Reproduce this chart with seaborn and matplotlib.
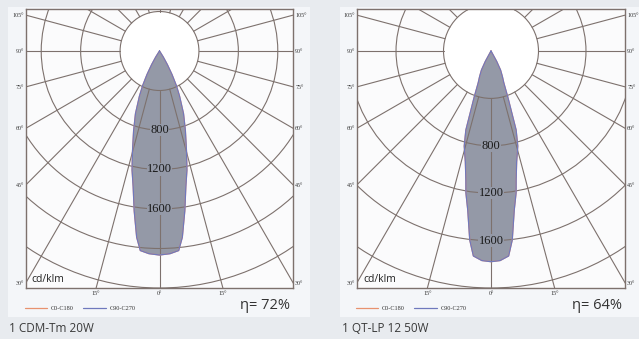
import numpy as np
import pandas as pd
import matplotlib
matplotlib.use('Agg')
import matplotlib.pyplot as plt
import seaborn as sns
from matplotlib.patches import Circle, Rectangle

# Werte (cd/klm ueber Ausstrahlwinkel gamma)
lamps = ["1 CDM-Tm 20W", "1 QT-LP 12 50W"]
eta = ["η= 72%", "η= 64%"]
gamma_a = [0, 3, 5.5, 7, 9, 11, 13, 15, 18, 21, 24, 26, 28, 30, 32, 34]
cd_a = [2066, 2055, 2030, 1900, 1640, 1400, 1237, 1060, 850, 680, 500, 390, 270, 160, 70, 0]
gamma_b = [0, 2.5, 4.9, 6.4, 8.3, 10, 11, 13, 15.7, 17.6, 20, 21.8, 24, 26.6, 28.5, 30.5]
cd_b = [1778, 1770, 1736, 1605, 1356, 1216, 1109, 960, 833, 700, 413, 291, 235, 179, 100, 0]
ring_labels = [800, 1200, 1600]
ring_max = [2400, 2000]
side_angles = [30, 45, 60, 75, 90, 105]
bottom_angles = [-15, 0, 15]
series = ["C0-C180", "C90-C270"]

grid_col = '#7d716d'
fill_col = '#9499a7'
line_cols = ['#e8926f', '#6f79bd']

sns.set_theme(style='white')
plt.rcParams['font.family'] = ['Open Sans', 'DejaVu Sans']

W, H = 639, 339
fig = plt.figure(figsize=(W / 100, H / 100), dpi=100, facecolor='#e8ebef')

# helle Karten hinter den Diagrammen
for cx in [8, 340]:
    fig.add_artist(Rectangle((cx / W, 1 - 317 / H), 302 / W, 310 / H,
                             transform=fig.transFigure, fc='#f4f6f9', ec='none', zorder=0))


def draw_panel(ax, gam, cd, rmax, eta_text):
    s = 237 / rmax          # Pixel pro cd
    half_w = 133.75 / s
    ax.set_xlim(-half_w, half_w)
    ax.set_ylim(-rmax, 42 / s)
    ax.set_facecolor('#fbfbfc')

    g = np.radians(np.array(gam, dtype=float))
    I = np.array(cd, dtype=float)
    full_g = np.concatenate([-g[::-1], g[1:]])
    full_I = np.concatenate([I[::-1], I[1:]])
    x = full_I * np.sin(full_g)
    y = -full_I * np.cos(full_g)

    ax.add_patch(Circle((0, 0), 400, fc='white', ec='none', zorder=1))
    ax.fill(x, y, color=fill_col, lw=0, zorder=2)

    for r in range(400, 4000, 400):
        ax.add_patch(Circle((0, 0), r, fill=False, ec=grid_col, lw=0.8, zorder=3))
    for a in range(0, 360, 15):
        t = np.radians(a)
        ax.plot([400 * np.sin(t), 6000 * np.sin(t)], [-400 * np.cos(t), -6000 * np.cos(t)],
                color=grid_col, lw=0.8, zorder=3)

    df = pd.concat([pd.DataFrame({'x': x, 'y': y, 'series': name}) for name in series])
    sns.lineplot(data=df, x='x', y='y', hue='series', palette=line_cols, sort=False,
                 estimator=None, lw=0.9, ax=ax, zorder=4)

    for v in ring_labels:
        ax.text(0, -v, str(v), ha='center', va='center', family='Liberation Serif', fontsize=9,
                color='#1a1a1a', zorder=5, bbox=dict(fc=fill_col, ec='none', pad=0.2))

    ax.set_yticks([-half_w / np.tan(np.radians(a)) for a in side_angles])
    ax.set_yticklabels([f"{a}°" for a in side_angles])
    ax.set_xticks([rmax * np.tan(np.radians(a)) for a in bottom_angles])
    ax.set_xticklabels([f"{abs(a)}°" for a in bottom_angles])
    ax.tick_params(axis='y', left=True, right=True, labelleft=True, labelright=True,
                   length=0, pad=1.5, labelsize=4.3, labelcolor='#333')
    ax.tick_params(axis='x', length=0, pad=2, labelsize=4.3, labelcolor='#333')
    for lab in ax.get_xticklabels() + ax.get_yticklabels():
        lab.set_family('Liberation Serif')
    ax.set_xlabel('')
    ax.set_ylabel('')
    for sp in ax.spines.values():
        sp.set_color(grid_col)
        sp.set_linewidth(1.0)

    ax.text(0.022, 0.032, 'cd/klm', transform=ax.transAxes, fontsize=7.5, va='center',
            color='#222', zorder=6)
    ax.text(0.99, -0.064, eta_text, transform=ax.transAxes, ha='right', va='center',
            fontsize=10.5, color='#333')

    sns.move_legend(ax, 'center left', bbox_to_anchor=(-0.005, -0.072), ncol=2, frameon=False,
                    fontsize=4.5, handlelength=3.6, columnspacing=1.5, handletextpad=0.6,
                    borderaxespad=0, borderpad=0, title=None)
    for t in ax.get_legend().get_texts():
        t.set_family('Liberation Serif')
        t.set_color('#333')


ax1 = fig.add_axes([26 / W, 1 - 288 / H, 267 / W, 279 / H])
ax2 = fig.add_axes([357 / W, 1 - 288 / H, 268 / W, 279 / H])
draw_panel(ax1, gamma_a, cd_a, ring_max[0], eta[0])
draw_panel(ax2, gamma_b, cd_b, ring_max[1], eta[1])

fig.text(9 / W, 1 - 328 / H, lamps[0], va='center', fontsize=8.5, color='#3a3a3a')
fig.text(342 / W, 1 - 328 / H, lamps[1], va='center', fontsize=8.5, color='#3a3a3a')

fig.savefig('out.png', dpi=100, facecolor=fig.get_facecolor())
